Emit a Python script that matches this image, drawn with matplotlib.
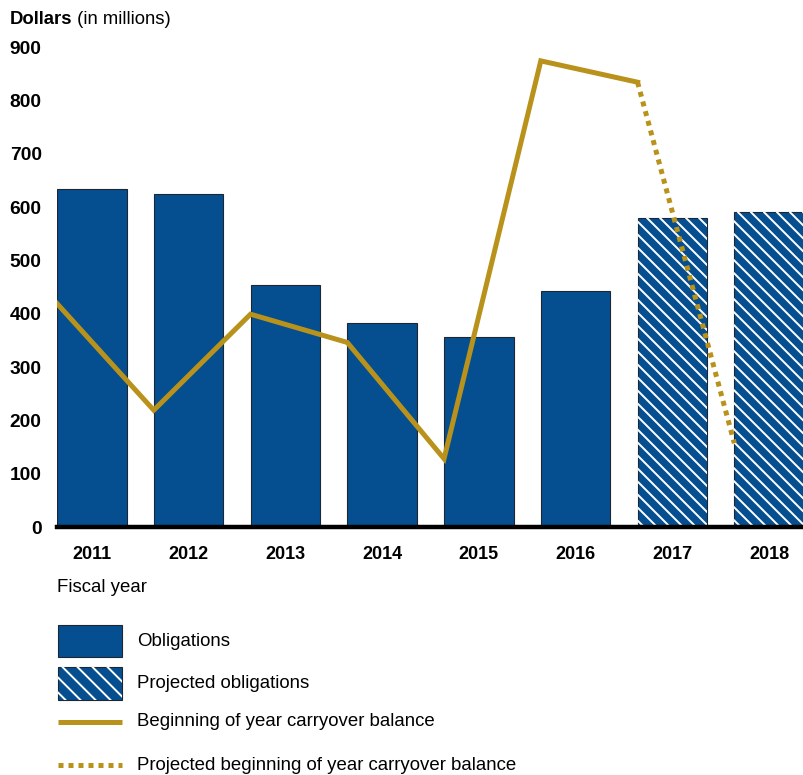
import numpy as np
import matplotlib
matplotlib.use('Agg')
import matplotlib.pyplot as plt
from matplotlib.patches import Rectangle
from matplotlib.lines import Line2D
from matplotlib.transforms import IdentityTransform

years = ['2011', '2012', '2013', '2014', '2015', '2016', '2017', '2018']
obligations = [634, 625, 454, 383, 356, 443]          # 2011-2016
projected_obligations = [579, 590]                    # 2017-2018
carryover = [419, 219, 399, 346, 128, 874, 834]       # 2011-2017
projected_carryover = [834, 157]                      # 2017-2018

BLUE = '#054F90'
EDGE = '#1c2733'
GOLD = '#B9921C'

plt.rcParams.update({'font.family': ['Liberation Sans', 'DejaVu Sans']})

W, H = 804, 775
fig = plt.figure(figsize=(W / 100, H / 100), dpi=100)
ax = fig.add_axes([57 / W, 1 - 527 / H, 747 / W, 480 / H])


def add_hatch(parent, patch, spacing, lw=1.4):
    # white diagonal hatching drawn in pixels, clipped to the patch
    bb = patch.get_window_extent()
    for c in np.arange(bb.x0 + bb.y0 + spacing / 2, bb.x1 + bb.y1, spacing):
        ln = Line2D([c - bb.y1, c - bb.y0], [bb.y1, bb.y0], transform=IdentityTransform(),
                    color='white', lw=lw, zorder=patch.get_zorder() + 0.05)
        parent.add_artist(ln)
        ln.set_clip_path(patch)


bw = 0.72
x = np.arange(len(years))
n_act = len(obligations)

ax.set_xlim(-bw / 2, len(years) - 1 + bw / 2)
ax.set_ylim(0, 900)

ax.bar(x[:n_act], obligations, width=bw, color=BLUE, edgecolor=EDGE, linewidth=0.8, zorder=2)
proj = ax.bar(x[n_act:], projected_obligations, width=bw, color=BLUE, edgecolor=EDGE,
              linewidth=0.8, zorder=2)
for p in proj:
    add_hatch(ax, p, 13)

# balance points sit on the left edge of each bar
lx = x - bw / 2
ax.plot(lx[:len(carryover)], carryover, color=GOLD, lw=3.6, solid_joinstyle='miter', zorder=3)
ax.plot(lx[len(carryover) - 1:], projected_carryover, color=GOLD, lw=3.6,
        linestyle=(0, (1, 1)), dash_capstyle='butt', zorder=3)

ax.set_yticks(range(0, 901, 100))
ax.set_xticks(x)
ax.set_xticklabels(years)
for s in ['top', 'right', 'left']:
    ax.spines[s].set_visible(False)
ax.spines['bottom'].set_linewidth(3.2)
ax.spines['bottom'].set_color('black')
ax.spines['bottom'].set_zorder(4)
ax.tick_params(axis='y', length=0, pad=11, labelsize=13.8)
ax.tick_params(axis='x', length=0, pad=14, labelsize=13)
for lab in ax.get_yticklabels() + ax.get_xticklabels():
    lab.set_fontweight('bold')

# header
t = fig.text(10 / W, 1 - 24 / H, 'Dollars', fontsize=13.3, fontweight='bold', va='baseline')
ax.annotate(' (in millions)', xy=(1, 0), xycoords=t, va='bottom', ha='left', fontsize=13.3)

fig.text(57 / W, 1 - 588 / H, 'Fiscal year', fontsize=13.4, va='center')

# legend
def fx(px):
    return px / W

def fy(py):
    return 1 - py / H

fig.add_artist(Rectangle((fx(58), fy(657)), fx(122) - fx(58), fy(625) - fy(657),
                         transform=fig.transFigure, facecolor=BLUE, edgecolor=EDGE, lw=0.8))
leg_proj = Rectangle((fx(58), fy(700)), fx(122) - fx(58), fy(667) - fy(700),
                     transform=fig.transFigure, facecolor=BLUE, edgecolor=EDGE, lw=0.8)
fig.add_artist(leg_proj)
add_hatch(fig, leg_proj, 15)
fig.add_artist(Line2D([fx(58), fx(122)], [fy(722), fy(722)], transform=fig.transFigure,
                      color=GOLD, lw=3.6, solid_capstyle='butt'))
fig.add_artist(Line2D([fx(58), fx(122)], [fy(765), fy(765)], transform=fig.transFigure,
                      color=GOLD, lw=3.6, linestyle=(0, (1, 1)), dash_capstyle='butt'))

labels = ['Obligations', 'Projected obligations', 'Beginning of year carryover balance',
          'Projected beginning of year carryover balance']
for lab, py in zip(labels, [641, 684, 722, 765]):
    fig.text(fx(137), fy(py), lab, fontsize=13.4, va='center')

fig.savefig('out.png', dpi=100)
